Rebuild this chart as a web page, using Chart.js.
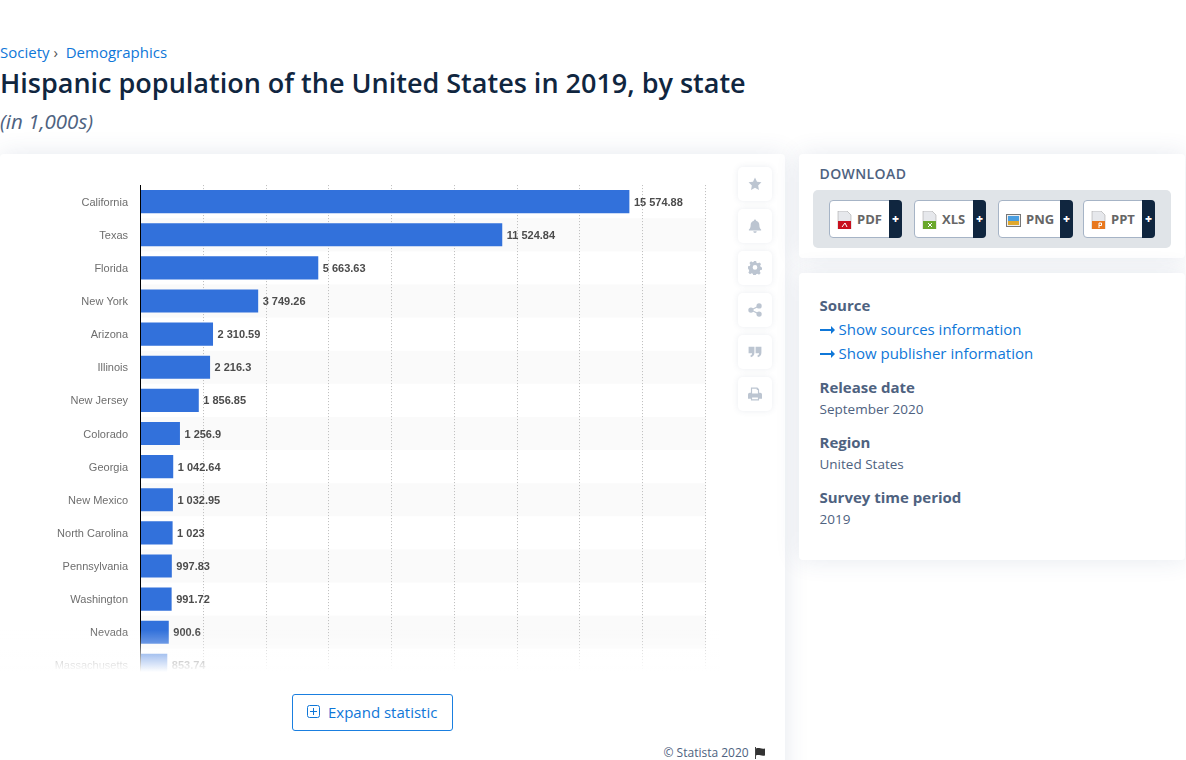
<!DOCTYPE html>
<html>
<head>
<meta charset="utf-8">
<title>Hispanic population of the United States in 2019, by state</title>
<script src="https://cdn.jsdelivr.net/npm/chart.js@4"></script>
<style>
html, body { margin: 0; padding: 0; background: #fff; }
body { width: 1186px; height: 760px; overflow: hidden; position: relative; font-family: "Open Sans", sans-serif; }
a, .link { color: #0f77d8; }
.abs { position: absolute; white-space: nowrap; }
.card { position: absolute; background: #fff; border-radius: 4px; box-shadow: 0 0 24px rgba(50, 70, 120, 0.12); }
#chartWrap { position: absolute; left: 0; top: 166px; width: 720px; height: 506px; overflow: hidden; }
#chartInner { position: relative; width: 720px; height: 535px; }
#fade { position: absolute; left: 0; top: 630px; width: 720px; height: 42px; background: linear-gradient(to bottom, rgba(255,255,255,0) 0%, rgba(255,255,255,0.25) 29%, rgba(255,255,255,0.55) 55%, #fff 100%); }
.tool { position: absolute; left: 738px; width: 34px; height: 34px; background: #fff; border-radius: 5px; box-shadow: 0 0 6px rgba(60, 80, 120, 0.1); }
.tool svg { position: absolute; left: 10px; top: 10px; width: 14px; height: 14px; fill: #bcc5d1; }
.dl { position: absolute; top: 200px; height: 38px; box-sizing: border-box; background: #fff; border: 1px solid #a6b4c6; border-radius: 4px; font-weight: 700; font-size: 13px; color: #666; }
.dl span { position: absolute; top: 9px; line-height: 18px; }
.dl b { position: absolute; right: -1px; top: -1px; height: 38px; width: 13px; background: #10263f; color: #fff; border-radius: 0 4px 4px 0; font-size: 12px; line-height: 37px; text-align: center; }
.dl svg { position: absolute; left: 7px; top: 10px; width: 15px; height: 18px; }
.head { color: #4e6280; font-weight: 700; font-size: 15px; }
.val { color: #4e6280; font-size: 13.5px; }
.arrow { position: absolute; left: 819.5px; }
</style>
</head>
<body>
<div class="abs" style="left:0;top:42px;font-size:15px;line-height:20px;color:#0f77d8">Society <span style="color:#555">›</span>&nbsp; Demographics</div>
<div class="abs" style="left:0;top:65px;font-size:27px;line-height:36px;font-weight:600;color:#10263f">Hispanic population of the United States in 2019, by state</div>
<div class="abs" style="left:0;top:106px;font-size:20.500px;line-height:30px;font-style:italic;color:#4e6280">(in 1,000s)</div>

<div class="card" style="left:0;top:154px;width:785px;height:640px"></div>
<div id="chartWrap"><div id="chartInner"><canvas id="populationChart"></canvas></div></div>
<div id="fade"></div>

<div class="tool" style="top:167px"><svg viewBox="0 0 24 24"><path d="M12 1l3.400 7.200 7.600 1-5.600 5.400 1.400 7.800L12 18.600l-6.800 3.800 1.400-7.800L1 9.200l7.600-1z"/></svg></div>
<div class="tool" style="top:209px"><svg viewBox="0 0 24 24"><path d="M12 1a2 2 0 0 1 2 2c4 1 5.500 4 5.500 8 0 4 1.500 5.500 3 7v1.500h-21V18c1.500-1.500 3-3 3-7 0-4 1.500-7 5.500-8a2 2 0 0 1 2-2zM9 21h6a3 3 0 0 1-6 0z"/></svg></div>
<div class="tool" style="top:251px"><svg viewBox="0 0 24 24"><path fill-rule="evenodd" d="M10 1h4l.6 3 2.400 1 2.600-1.600 2.800 2.800L20.800 8.800l1 2.400 2.200.8v4l-2.900.6-1 2.400 1.600 2.600-2.800 2.800-2.600-1.600-2.400 1-.9 2.100h-4l-.6-3-2.400-1-2.600 1.600-2.800-2.800 1.600-2.600-1-2.400L0 14v-4l3-.6 1-2.400-1.600-2.600 2.800-2.800L7.800 3.200l2.200-1zM12 8a4 4 0 1 0 0 8 4 4 0 0 0 0-8z" transform="translate(0 -1)"/></svg></div>
<div class="tool" style="top:293px"><svg viewBox="0 0 24 24"><circle cx="5" cy="12" r="4.500"/><circle cx="19" cy="5" r="4.500"/><circle cx="19" cy="19" r="4.500"/><path d="M5 11l14-7v2.500L7 12l12 5.500V20L5 13z"/></svg></div>
<div class="tool" style="top:335px"><svg viewBox="0 0 24 24"><path d="M1 3h10v10c0 4-2 7-6 8l-1-3c2-.5 3-2 3-4H1zM13 3h10v10c0 4-2 7-6 8l-1-3c2-.5 3-2 3-4h-6z"/></svg></div>
<div class="tool" style="top:377px"><svg viewBox="0 0 24 24"><path fill-rule="evenodd" d="M5 1h11l3 3v6h2a3 3 0 0 1 3 3v7h-5v3H5v-3H0v-7a3 3 0 0 1 3-3h2zm2 2v8h10V5h-2V3zm0 15v3h10v-3z"/></svg></div>

<div class="card" style="left:799px;top:154px;width:386px;height:104px"></div>
<div class="abs" style="left:819.500px;top:164px;font-size:14px;line-height:20px;font-weight:600;letter-spacing:0.4px;color:#4e6280">DOWNLOAD</div>
<div class="abs" style="left:813px;top:190px;width:358px;height:58px;background:#e0e4e8;border-radius:5px"></div>
<div class="dl" style="left:829px;width:73px"><svg viewBox="0 0 15 18"><path d="M1 0h9l4 4v14H1z" fill="#e6e8ec" stroke="#999" stroke-width=".5"/><rect x="1" y="10" width="13" height="8" fill="#c8101e"/><path d="M5 16l3-4 2 4" fill="none" stroke="#fff"/></svg><span style="left:27px">PDF</span><b>+</b></div>
<div class="dl" style="left:914px;width:72px"><svg viewBox="0 0 15 18"><path d="M1 0h9l4 4v14H1z" fill="#e6e8ec" stroke="#999" stroke-width=".5"/><rect x="1" y="10" width="13" height="8" fill="#6aa82c"/><path d="M6 12l4 4M10 12l-4 4" stroke="#fff"/></svg><span style="left:27px">XLS</span><b>+</b></div>
<div class="dl" style="left:998px;width:75px"><svg viewBox="0 0 15 18"><rect x=".5" y="3.500" width="14" height="12" fill="#eee" stroke="#777"/><rect x="2" y="5" width="11" height="5" fill="#4a9ee0"/><rect x="2" y="10" width="11" height="4" fill="#e0a82c"/></svg><span style="left:27px">PNG</span><b>+</b></div>
<div class="dl" style="left:1083px;width:72px"><svg viewBox="0 0 15 18"><path d="M1 0h9l4 4v14H1z" fill="#e6e8ec" stroke="#999" stroke-width=".5"/><rect x="1" y="10" width="13" height="8" fill="#e8781e"/><path d="M8 17v-5h2.500v2.500H8" fill="none" stroke="#fff"/></svg><span style="left:27px">PPT</span><b>+</b></div>

<div class="card" style="left:799px;top:273px;width:386px;height:287px"></div>
<div class="abs head" style="left:819.500px;top:295px;line-height:21px">Source</div>
<svg class="arrow" style="top:326px" width="15" height="8" viewBox="0 0 15 8"><path d="M0 3h11V0l4 4-4 4V5H0z" fill="#0f77d8"/></svg>
<div class="abs link" style="left:838.500px;top:319px;font-size:15px;line-height:21px">Show sources information</div>
<svg class="arrow" style="top:350px" width="15" height="8" viewBox="0 0 15 8"><path d="M0 3h11V0l4 4-4 4V5H0z" fill="#0f77d8"/></svg>
<div class="abs link" style="left:838.500px;top:343px;font-size:15px;line-height:21px">Show publisher information</div>
<div class="abs head" style="left:819.500px;top:377px;line-height:21px">Release date</div>
<div class="abs val" style="left:819.500px;top:399px;line-height:20px">September 2020</div>
<div class="abs head" style="left:819.500px;top:432px;line-height:21px">Region</div>
<div class="abs val" style="left:819.500px;top:454px;line-height:20px">United States</div>
<div class="abs head" style="left:819.500px;top:487px;line-height:21px">Survey time period</div>
<div class="abs val" style="left:819.500px;top:509px;line-height:20px">2019</div>

<div class="abs" style="left:292px;top:694px;width:161px;height:37px;box-sizing:border-box;border:1px solid #1a7fe0;border-radius:3px;color:#0f77d8;font-size:15px;line-height:35px;padding-left:35px">Expand statistic
  <svg style="position:absolute;left:14px;top:10px" width="13" height="13" viewBox="0 0 13 13" fill="none" stroke="#0f77d8"><rect x=".5" y=".5" width="12" height="12" rx="2"/><path d="M6.500 3v7M3 6.500h7"/></svg>
</div>
<div class="abs" style="left:663.500px;top:744px;font-size:12px;line-height:18px;color:#4e6280">© Statista 2020</div>
<svg class="abs" style="left:754px;top:747px" width="12" height="12" viewBox="0 0 12 12"><path d="M1 0h1v12H1z" fill="#444"/><path d="M2 1.500c3-1.500 5 1 9 0v7c-4 1-6-1.500-9 0z" fill="#333"/></svg>

<script>
const states = ['California', 'Texas', 'Florida', 'New York', 'Arizona', 'Illinois', 'New Jersey', 'Colorado', 'Georgia', 'New Mexico', 'North Carolina', 'Pennsylvania', 'Washington', 'Nevada', 'Massachusetts'];
const population = [15574.88, 11524.84, 5663.63, 3749.26, 2310.59, 2216.3, 1856.85, 1256.9, 1042.64, 1032.95, 1023, 997.83, 991.72, 900.6, 853.74];

function formatValue(v) {
    return String(v).replace(/\B(?=(\d{3})+(?!\d))/, ' ');
}

// Every second row gets a light band, starting at Texas. Drawn before the grid.
const rowBands = {
    id: 'rowBands',
    beforeDraw(chart) {
        const { ctx, chartArea, scales } = chart;
        const rowHeight = chartArea.height / states.length;
        ctx.save();
        ctx.fillStyle = '#fafafa';
        states.forEach((_, i) => {
            if (i % 2 === 1) {
                ctx.fillRect(chartArea.left, scales.y.getPixelForValue(i) - rowHeight / 2, chartArea.width, rowHeight);
            }
        });
        ctx.restore();
    }
};

const valueLabels = {
    id: 'valueLabels',
    afterDatasetsDraw(chart) {
        const { ctx } = chart;
        ctx.save();
        ctx.font = 'bold 11px "Liberation Sans"';
        ctx.fillStyle = '#4c4c4c';
        ctx.textBaseline = 'middle';
        chart.getDatasetMeta(0).data.forEach((bar, i) => {
            ctx.fillText(formatValue(population[i]), bar.x + 4.5, bar.y + 1);
        });
        ctx.restore();
    }
};

new Chart(document.getElementById('populationChart').getContext('2d'), {
    type: 'bar',
    data: {
        labels: states,
        datasets: [{
            data: population,
            backgroundColor: '#3271db',
            barPercentage: 0.7,
            categoryPercentage: 1
        }]
    },
    plugins: [rowBands, valueLabels],
    options: {
        indexAxis: 'y',
        responsive: true,
        maintainAspectRatio: false,
        animation: false,
        layout: { padding: { top: 2, right: 14.5, bottom: 0, left: 0 } },
        plugins: { legend: { display: false }, tooltip: { enabled: false } },
        scales: {
            x: {
                min: 0,
                max: 18000,
                ticks: { stepSize: 2000, display: false },
                grid: { color: '#bbb', drawTicks: false },
                border: { display: false, dash: [1, 2] }
            },
            y: {
                afterFit(scale) { scale.width = 140.5; },
                ticks: { color: '#6e6e6e', padding: 12.5, labelOffset: 1, font: { family: '"Liberation Sans"', size: 11 } },
                grid: { display: false, drawTicks: false },
                border: { color: '#000', width: 1 }
            }
        }
    }
});
</script>
</body>
</html>
